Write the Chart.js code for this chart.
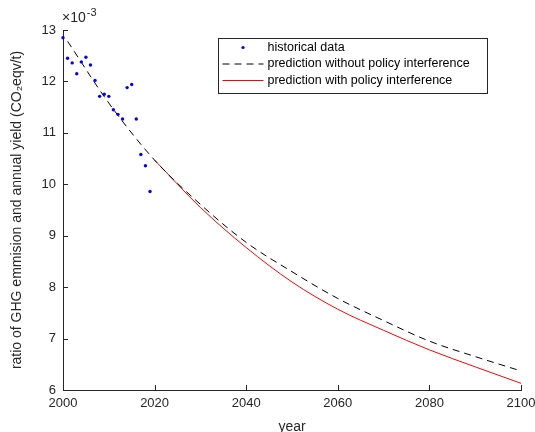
<!DOCTYPE html>
<html>
<head>
<meta charset="utf-8">
<script src="https://cdn.jsdelivr.net/npm/chart.js@4.4.1/dist/chart.umd.min.js"></script>
<style>
  html, body { margin: 0; padding: 0; background: #fff; }
  #wrap { width: 535px; height: 432px; position: relative; }
</style>
</head>
<body>
<div id="wrap"><canvas id="ghg-diagram"></canvas></div>
<script>
// values are in units of 1e-3 (CO2eqv/t)
const histYears = [2000, 2001, 2002, 2003, 2004, 2005, 2006, 2007, 2008, 2009,
                   2010, 2011, 2012, 2013, 2014, 2015, 2016, 2017, 2018, 2019];
const histValues = [12.85, 12.45, 12.36, 12.15, 12.38, 12.47, 12.32, 12.02, 11.71, 11.75,
                    11.71, 11.45, 11.36, 11.27, 11.88, 11.94, 11.27, 10.58, 10.36, 9.86];

const noPolicyYears = [2001, 2010, 2020, 2030, 2040, 2050, 2060, 2070, 2080, 2090, 2100];
const noPolicyValues = [12.78, 11.58, 10.47, 9.61, 8.87, 8.30, 7.78, 7.35, 6.95, 6.65, 6.37];

const policyYears = [2020, 2030, 2040, 2050, 2060, 2070, 2080, 2090, 2100];
const policyValues = [10.47, 9.55, 8.77, 8.10, 7.57, 7.16, 6.78, 6.45, 6.13];

const xTicks = [2000, 2020, 2040, 2060, 2080, 2100];
const yTicks = [6, 7, 8, 9, 10, 11, 12, 13];

const toPoints = (xs, ys) => xs.map((x, i) => ({x: x, y: ys[i]}));

const FONT = "'Liberation Sans', Arial, Helvetica, sans-serif";
const AXIS = '#262626';

// matlab style ticks pointing into the plot, plus the exponent label
const matlabAxes = {
    id: 'matlabAxes',
    afterDraw(chart) {
        const ctx = chart.ctx;
        const a = chart.chartArea;
        const xs = chart.scales.x, ys = chart.scales.y;
        ctx.save();
        ctx.strokeStyle = AXIS;
        ctx.lineWidth = 1;
        ctx.beginPath();
        xTicks.forEach(v => {
            const px = Math.round(xs.getPixelForValue(v)) + 0.5;
            ctx.moveTo(px, a.bottom);
            ctx.lineTo(px, a.bottom - 5);
        });
        yTicks.forEach(v => {
            const py = Math.round(ys.getPixelForValue(v)) + 0.5;
            ctx.moveTo(a.left, py);
            ctx.lineTo(a.left + 5, py);
        });
        ctx.stroke();

        ctx.fillStyle = AXIS;
        ctx.textBaseline = 'alphabetic';
        ctx.textAlign = 'left';
        ctx.font = '14px ' + FONT;
        ctx.fillText('\u00d710', a.left - 1, a.top - 8);
        const w = ctx.measureText('\u00d710').width;
        ctx.font = '11px ' + FONT;
        ctx.fillText('-3', a.left - 1 + w + 1, a.top - 14);
        ctx.restore();
    }
};

// legend box drawn inside the plot like the original
const innerLegend = {
    id: 'innerLegend',
    afterDraw(chart) {
        const ctx = chart.ctx;
        const box = {x: 218.5, y: 38.5, w: 269, h: 55};
        ctx.save();
        ctx.fillStyle = '#fff';
        ctx.fillRect(box.x, box.y, box.w, box.h);
        ctx.strokeStyle = AXIS;
        ctx.lineWidth = 1;
        ctx.strokeRect(box.x, box.y, box.w, box.h);
        ctx.font = '12.5px ' + FONT;
        ctx.textBaseline = 'middle';
        ctx.textAlign = 'left';
        chart.data.datasets.forEach((ds, i) => {
            const cy = box.y + 9 + i * 16.5;
            const sx = box.x + 4, ex = box.x + 45;
            if (ds.showLine === false) {
                ctx.fillStyle = ds.pointBackgroundColor;
                ctx.beginPath();
                ctx.arc((sx + ex) / 2, cy, 1.6, 0, Math.PI * 2);
                ctx.fill();
            } else {
                ctx.strokeStyle = ds.borderColor;
                ctx.setLineDash(ds.borderDash || []);
                ctx.beginPath();
                ctx.moveTo(sx, cy);
                ctx.lineTo(ex, cy);
                ctx.stroke();
                ctx.setLineDash([]);
            }
            ctx.fillStyle = '#000';
            ctx.fillText(ds.label, box.x + 49, cy);
        });
        ctx.restore();
    }
};

new Chart('ghg-diagram', {
    type: 'scatter',
    data: {
        datasets: [
            {
                label: 'historical data',
                data: toPoints(histYears, histValues),
                showLine: false,
                clip: false,
                pointRadius: 1.7,
                pointBorderWidth: 0,
                pointBackgroundColor: '#0000ff',
                backgroundColor: '#0000ff',
                borderColor: '#0000ff'
            },
            {
                label: 'prediction without policy interference',
                data: toPoints(noPolicyYears, noPolicyValues),
                showLine: true,
                pointRadius: 0,
                borderColor: '#000000',
                borderWidth: 1,
                borderDash: [7, 5],
                cubicInterpolationMode: 'monotone'
            },
            {
                label: 'prediction with policy interference',
                data: toPoints(policyYears, policyValues),
                showLine: true,
                pointRadius: 0,
                borderColor: '#ff0000',
                borderWidth: 1,
                cubicInterpolationMode: 'monotone'
            }
        ]
    },
    options: {
        responsive: true,
        maintainAspectRatio: false,
        animation: false,
        layout: {padding: {left: 4, right: 14, top: 30, bottom: 0}},
        plugins: {
            legend: {display: false},
            tooltip: {enabled: false}
        },
        scales: {
            x: {
                type: 'linear',
                min: 2000,
                max: 2100,
                afterBuildTicks: s => { s.ticks = xTicks.map(v => ({value: v})); },
                afterFit: s => { s.height = 42; s.paddingLeft = 0; s.paddingRight = 0; },
                grid: {display: false, drawTicks: false},
                border: {display: true, color: AXIS, width: 1},
                ticks: {
                    color: AXIS,
                    padding: 6,
                    maxRotation: 0,
                    font: {family: FONT, size: 13},
                    callback: v => String(v)
                },
                title: {
                    display: true,
                    text: 'year',
                    color: AXIS,
                    padding: {top: 0, bottom: -4},
                    font: {family: FONT, size: 14}
                }
            },
            y: {
                min: 6,
                max: 13,
                afterBuildTicks: s => { s.ticks = yTicks.map(v => ({value: v})); },
                afterFit: s => { s.width = 59; },
                grid: {display: false, drawTicks: false},
                border: {display: true, color: AXIS, width: 1},
                ticks: {
                    color: AXIS,
                    padding: 7,
                    font: {family: FONT, size: 13}
                },
                title: {
                    display: true,
                    text: 'ratio of GHG emmision and annual yield (CO\u2082eqv/t)',
                    color: AXIS,
                    padding: {top: 5, bottom: 0},
                    font: {family: FONT, size: 14}
                }
            }
        }
    },
    plugins: [matlabAxes, innerLegend]
});
</script>
</body>
</html>
